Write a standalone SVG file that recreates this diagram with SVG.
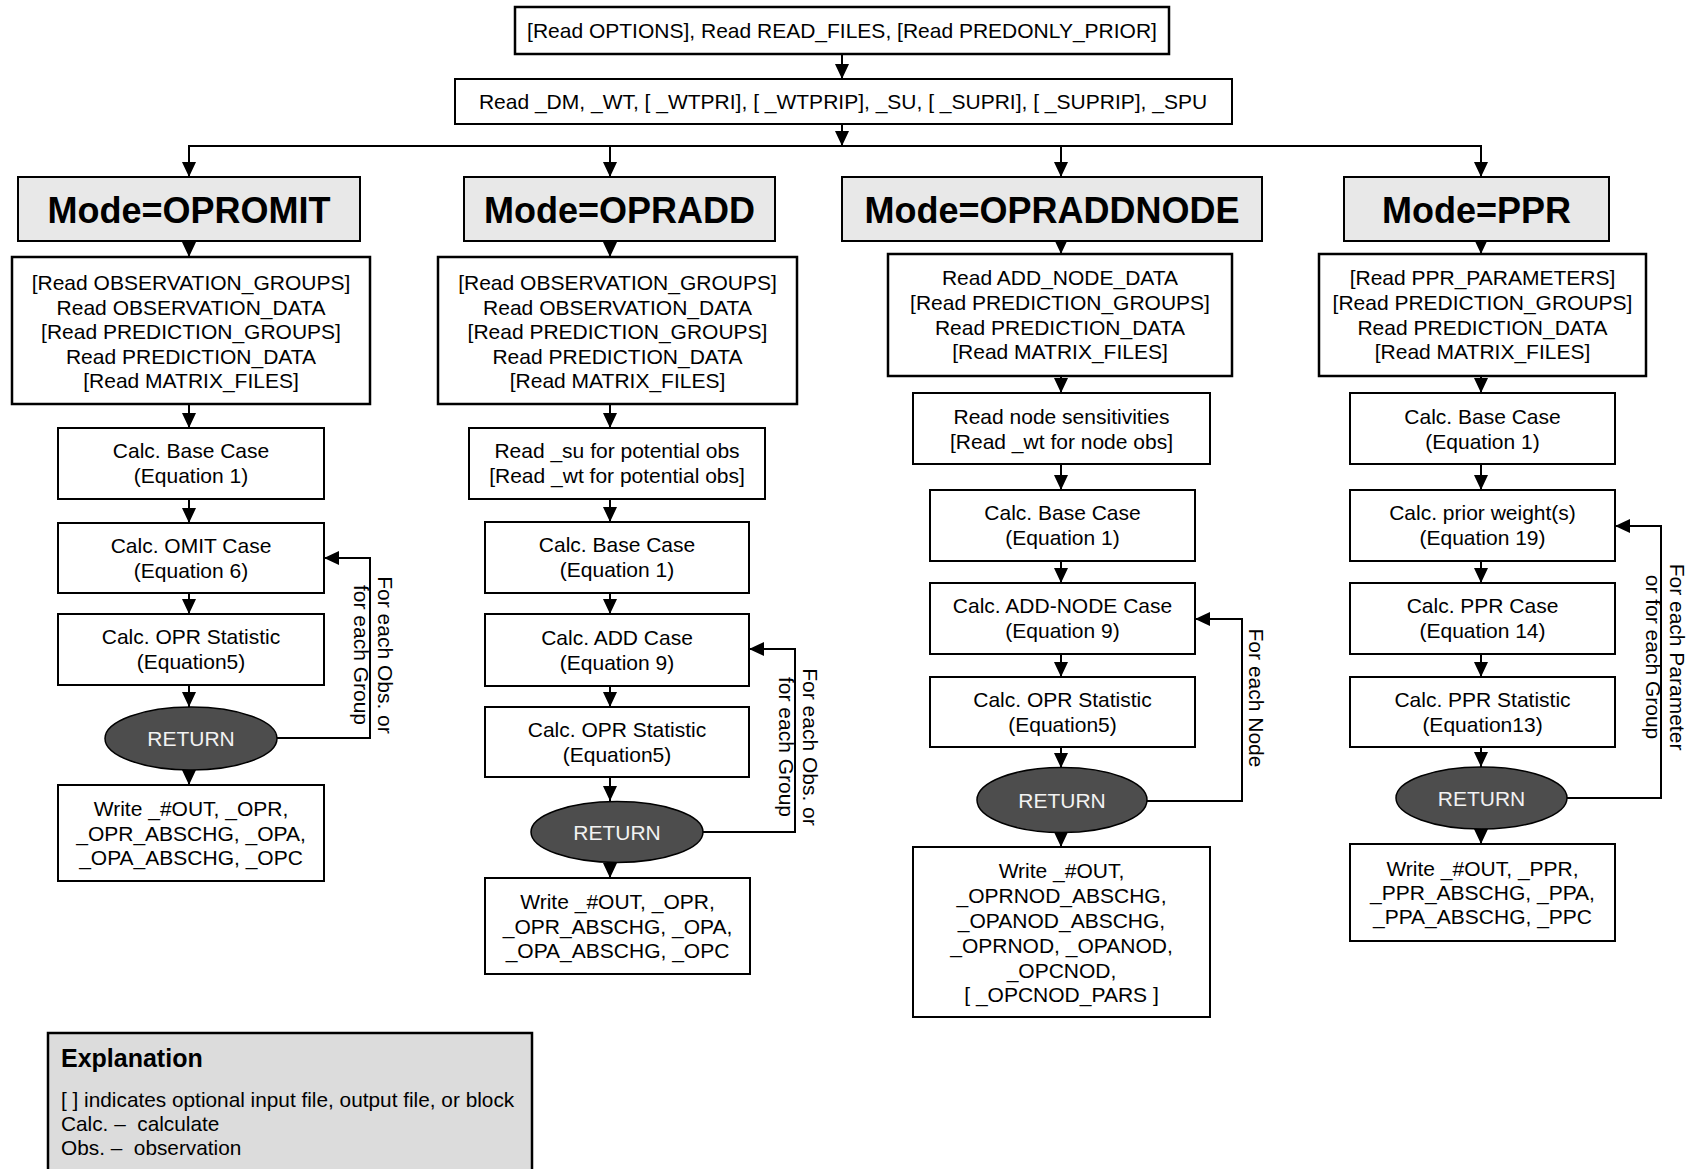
<svg xmlns="http://www.w3.org/2000/svg" width="1695" height="1169" viewBox="0 0 1695 1169">
<defs>
<style>
text{font-family:"Liberation Sans",Arial,sans-serif;font-size:21px;fill:#000;text-anchor:middle}
.box{fill:#fff;stroke:#000;stroke-width:2}
.rbox{fill:#fff;stroke:#000;stroke-width:2.5}
.mode{fill:#e8e8e8;stroke:#000;stroke-width:2}
.mt{font-size:36px;font-weight:bold}
.ret{fill:#4d4d4d;stroke:#000;stroke-width:1.5}
.rt{fill:#f2f2f2}
.ln{fill:none;stroke:#000;stroke-width:2}
.exp{fill:#dcdcdc;stroke:#000;stroke-width:2.5}
.lt{text-anchor:start;white-space:pre}
</style>
<marker id="ah" viewBox="0 0 15 14" refX="15" refY="7" markerWidth="15" markerHeight="14" markerUnits="userSpaceOnUse" orient="auto"><path d="M0,0 L15,7 L0,14 z" fill="#000"/></marker>
</defs>
<rect width="1695" height="1169" fill="#fff"/>

<g id="connectors">
<line class="ln" x1="842" y1="54" x2="842" y2="79" marker-end="url(#ah)"/>
<line class="ln" x1="842" y1="124" x2="842" y2="146" marker-end="url(#ah)"/>
<polyline class="ln" points="189,177 189,146 1481,146 1481,177"/>
<line class="ln" x1="189" y1="146" x2="189" y2="177" marker-end="url(#ah)"/>
<line class="ln" x1="610" y1="146" x2="610" y2="177" marker-end="url(#ah)"/>
<line class="ln" x1="1061" y1="146" x2="1061" y2="177" marker-end="url(#ah)"/>
<line class="ln" x1="1481" y1="146" x2="1481" y2="177" marker-end="url(#ah)"/>
<!-- column A -->
<line class="ln" x1="189" y1="241" x2="189" y2="257" marker-end="url(#ah)"/>
<line class="ln" x1="189" y1="404" x2="189" y2="428" marker-end="url(#ah)"/>
<line class="ln" x1="189" y1="499" x2="189" y2="523" marker-end="url(#ah)"/>
<line class="ln" x1="189" y1="593" x2="189" y2="614" marker-end="url(#ah)"/>
<line class="ln" x1="189" y1="685" x2="189" y2="707" marker-end="url(#ah)"/>
<line class="ln" x1="189" y1="770" x2="189" y2="785" marker-end="url(#ah)"/>
<polyline class="ln" points="277,738 370,738 370,558 324,558" marker-end="url(#ah)"/>
<!-- column B -->
<line class="ln" x1="610" y1="241" x2="610" y2="257" marker-end="url(#ah)"/>
<line class="ln" x1="610" y1="404" x2="610" y2="428" marker-end="url(#ah)"/>
<line class="ln" x1="610" y1="499" x2="610" y2="522" marker-end="url(#ah)"/>
<line class="ln" x1="610" y1="593" x2="610" y2="614" marker-end="url(#ah)"/>
<line class="ln" x1="610" y1="686" x2="610" y2="707" marker-end="url(#ah)"/>
<line class="ln" x1="610" y1="777" x2="610" y2="801" marker-end="url(#ah)"/>
<line class="ln" x1="610" y1="862" x2="610" y2="878" marker-end="url(#ah)"/>
<polyline class="ln" points="703,832 795,832 795,649 749,649" marker-end="url(#ah)"/>
<!-- column C -->
<line class="ln" x1="1061" y1="241" x2="1061" y2="254" marker-end="url(#ah)"/>
<line class="ln" x1="1061" y1="376" x2="1061" y2="393" marker-end="url(#ah)"/>
<line class="ln" x1="1061" y1="464" x2="1061" y2="490" marker-end="url(#ah)"/>
<line class="ln" x1="1061" y1="561" x2="1061" y2="583" marker-end="url(#ah)"/>
<line class="ln" x1="1061" y1="654" x2="1061" y2="677" marker-end="url(#ah)"/>
<line class="ln" x1="1061" y1="747" x2="1061" y2="768" marker-end="url(#ah)"/>
<line class="ln" x1="1061" y1="832" x2="1061" y2="847" marker-end="url(#ah)"/>
<polyline class="ln" points="1147,801 1242,801 1242,619 1195,619" marker-end="url(#ah)"/>
<!-- column D -->
<line class="ln" x1="1481" y1="241" x2="1481" y2="254" marker-end="url(#ah)"/>
<line class="ln" x1="1481" y1="376" x2="1481" y2="393" marker-end="url(#ah)"/>
<line class="ln" x1="1481" y1="464" x2="1481" y2="490" marker-end="url(#ah)"/>
<line class="ln" x1="1481" y1="561" x2="1481" y2="583" marker-end="url(#ah)"/>
<line class="ln" x1="1481" y1="654" x2="1481" y2="677" marker-end="url(#ah)"/>
<line class="ln" x1="1481" y1="747" x2="1481" y2="767" marker-end="url(#ah)"/>
<line class="ln" x1="1481" y1="829" x2="1481" y2="844" marker-end="url(#ah)"/>
<polyline class="ln" points="1567,798 1661,798 1661,526 1615,526" marker-end="url(#ah)"/>
<!-- loop labels -->
<g transform="translate(378,655) rotate(90)"><text>For each Obs. or</text><text y="24">for each Group</text></g>
<g transform="translate(803,747) rotate(90)"><text>For each Obs. or</text><text y="24">for each Group</text></g>
<g transform="translate(1249,698) rotate(90)"><text>For each Node</text></g>
<g transform="translate(1670,657) rotate(90)"><text>For each Parameter</text><text y="24">or for each Group</text></g>
</g>

<g id="n-options"><rect class="rbox" x="515" y="7" width="654" height="47"/><text x="842" y="38">[Read OPTIONS], Read READ_FILES, [Read PREDONLY_PRIOR]</text></g>
<g id="n-read-dm"><rect class="box" x="455" y="79" width="777" height="45"/><text x="843" y="109">Read _DM, _WT, [ _WTPRI], [ _WTPRIP], _SU, [ _SUPRI], [ _SUPRIP], _SPU</text></g>

<!-- Column A: OPROMIT -->
<g id="n-mode-opromit"><rect class="mode" x="18" y="177" width="342" height="64"/><text class="mt" x="189" y="223">Mode=OPROMIT</text></g>
<g id="n-a-read"><rect class="rbox" x="12" y="257" width="358" height="147"/>
<text x="191" y="290">[Read OBSERVATION_GROUPS]</text><text x="191" y="314.5">Read OBSERVATION_DATA</text><text x="191" y="339">[Read PREDICTION_GROUPS]</text><text x="191" y="363.5">Read PREDICTION_DATA</text><text x="191" y="388">[Read MATRIX_FILES]</text></g>
<g id="n-a-base"><rect class="box" x="58" y="428" width="266" height="71"/><text x="191" y="458">Calc. Base Case</text><text x="191" y="483">(Equation 1)</text></g>
<g id="n-a-omit"><rect class="box" x="58" y="523" width="266" height="70"/><text x="191" y="552.5">Calc. OMIT Case</text><text x="191" y="577.5">(Equation 6)</text></g>
<g id="n-a-stat"><rect class="box" x="58" y="614" width="266" height="71"/><text x="191" y="644">Calc. OPR Statistic</text><text x="191" y="669">(Equation5)</text></g>
<g id="n-a-return"><ellipse class="ret" cx="191" cy="738.5" rx="86" ry="31.5"/><text class="rt" x="191" y="746">RETURN</text></g>
<g id="n-a-write"><rect class="box" x="58" y="785" width="266" height="96"/><text x="191" y="816">Write _#OUT, _OPR,</text><text x="191" y="840.5">_OPR_ABSCHG, _OPA,</text><text x="191" y="865">_OPA_ABSCHG, _OPC</text></g>

<!-- Column B: OPRADD -->
<g id="n-mode-opradd"><rect class="mode" x="464" y="177" width="311" height="64"/><text class="mt" x="619.5" y="223">Mode=OPRADD</text></g>
<g id="n-b-read"><rect class="rbox" x="438" y="257" width="359" height="147"/>
<text x="617.5" y="290">[Read OBSERVATION_GROUPS]</text><text x="617.5" y="314.5">Read OBSERVATION_DATA</text><text x="617.5" y="339">[Read PREDICTION_GROUPS]</text><text x="617.5" y="363.5">Read PREDICTION_DATA</text><text x="617.5" y="388">[Read MATRIX_FILES]</text></g>
<g id="n-b-su"><rect class="box" x="469" y="428" width="296" height="71"/><text x="617" y="458">Read _su for potential obs</text><text x="617" y="483">[Read _wt for potential obs]</text></g>
<g id="n-b-base"><rect class="box" x="485" y="522" width="264" height="71"/><text x="617" y="552">Calc. Base Case</text><text x="617" y="577">(Equation 1)</text></g>
<g id="n-b-add"><rect class="box" x="485" y="614" width="264" height="72"/><text x="617" y="644.5">Calc. ADD Case</text><text x="617" y="669.5">(Equation 9)</text></g>
<g id="n-b-stat"><rect class="box" x="485" y="707" width="264" height="70"/><text x="617" y="736.5">Calc. OPR Statistic</text><text x="617" y="761.5">(Equation5)</text></g>
<g id="n-b-return"><ellipse class="ret" cx="617" cy="832" rx="86" ry="30.5"/><text class="rt" x="617" y="839.5">RETURN</text></g>
<g id="n-b-write"><rect class="box" x="485" y="878" width="265" height="96"/><text x="617.5" y="909">Write _#OUT, _OPR,</text><text x="617.5" y="933.5">_OPR_ABSCHG, _OPA,</text><text x="617.5" y="958">_OPA_ABSCHG, _OPC</text></g>

<!-- Column C: OPRADDNODE -->
<g id="n-mode-opraddnode"><rect class="mode" x="842" y="177" width="420" height="64"/><text class="mt" x="1052" y="223">Mode=OPRADDNODE</text></g>
<g id="n-c-read"><rect class="rbox" x="888" y="254" width="344" height="122"/>
<text x="1060" y="285">Read ADD_NODE_DATA</text><text x="1060" y="310">[Read PREDICTION_GROUPS]</text><text x="1060" y="335">Read PREDICTION_DATA</text><text x="1060" y="359">[Read MATRIX_FILES]</text></g>
<g id="n-c-sens"><rect class="box" x="913" y="393" width="297" height="71"/><text x="1061.5" y="423.5">Read node sensitivities</text><text x="1061.5" y="448.5">[Read _wt for node obs]</text></g>
<g id="n-c-base"><rect class="box" x="930" y="490" width="265" height="71"/><text x="1062.5" y="520">Calc. Base Case</text><text x="1062.5" y="545">(Equation 1)</text></g>
<g id="n-c-addnode"><rect class="box" x="930" y="583" width="265" height="71"/><text x="1062.5" y="613">Calc. ADD-NODE Case</text><text x="1062.5" y="638">(Equation 9)</text></g>
<g id="n-c-stat"><rect class="box" x="930" y="677" width="265" height="70"/><text x="1062.5" y="706.5">Calc. OPR Statistic</text><text x="1062.5" y="731.5">(Equation5)</text></g>
<g id="n-c-return"><ellipse class="ret" cx="1062" cy="800" rx="85" ry="32.5"/><text class="rt" x="1062" y="807.5">RETURN</text></g>
<g id="n-c-write"><rect class="box" x="913" y="847" width="297" height="170"/>
<text x="1061.5" y="878">Write _#OUT,</text><text x="1061.5" y="903">_OPRNOD_ABSCHG,</text><text x="1061.5" y="928">_OPANOD_ABSCHG,</text><text x="1061.5" y="952.5">_OPRNOD, _OPANOD,</text><text x="1061.5" y="977.5">_OPCNOD,</text><text x="1061.5" y="1002">[ _OPCNOD_PARS ]</text></g>

<!-- Column D: PPR -->
<g id="n-mode-ppr"><rect class="mode" x="1344" y="177" width="265" height="64"/><text class="mt" x="1476.5" y="223">Mode=PPR</text></g>
<g id="n-d-read"><rect class="rbox" x="1319" y="254" width="327" height="122"/>
<text x="1482.5" y="285">[Read PPR_PARAMETERS]</text><text x="1482.5" y="310">[Read PREDICTION_GROUPS]</text><text x="1482.5" y="335">Read PREDICTION_DATA</text><text x="1482.5" y="359">[Read MATRIX_FILES]</text></g>
<g id="n-d-base"><rect class="box" x="1350" y="393" width="265" height="71"/><text x="1482.5" y="423.5">Calc. Base Case</text><text x="1482.5" y="448.5">(Equation 1)</text></g>
<g id="n-d-prior"><rect class="box" x="1350" y="490" width="265" height="71"/><text x="1482.5" y="520">Calc. prior weight(s)</text><text x="1482.5" y="545">(Equation 19)</text></g>
<g id="n-d-case"><rect class="box" x="1350" y="583" width="265" height="71"/><text x="1482.5" y="613">Calc. PPR Case</text><text x="1482.5" y="638">(Equation 14)</text></g>
<g id="n-d-stat"><rect class="box" x="1350" y="677" width="265" height="70"/><text x="1482.5" y="706.5">Calc. PPR Statistic</text><text x="1482.5" y="731.5">(Equation13)</text></g>
<g id="n-d-return"><ellipse class="ret" cx="1481.5" cy="798" rx="85.5" ry="31"/><text class="rt" x="1481.5" y="805.5">RETURN</text></g>
<g id="n-d-write"><rect class="box" x="1350" y="844" width="265" height="97"/><text x="1482.5" y="876">Write _#OUT, _PPR,</text><text x="1482.5" y="900">_PPR_ABSCHG, _PPA,</text><text x="1482.5" y="924">_PPA_ABSCHG, _PPC</text></g>

<g id="explanation"><rect class="exp" x="48" y="1033" width="484" height="200"/>
<text class="lt" x="61" y="1067" style="font-size:25px;font-weight:bold">Explanation</text>
<text class="lt" x="61" y="1107" style="font-size:20.8px">[ ] indicates optional input file, output file, or block</text>
<text class="lt" x="61" y="1131" style="font-size:20.8px">Calc. –  calculate</text>
<text class="lt" x="61" y="1155" style="font-size:20.8px">Obs. –  observation</text></g>
</svg>
